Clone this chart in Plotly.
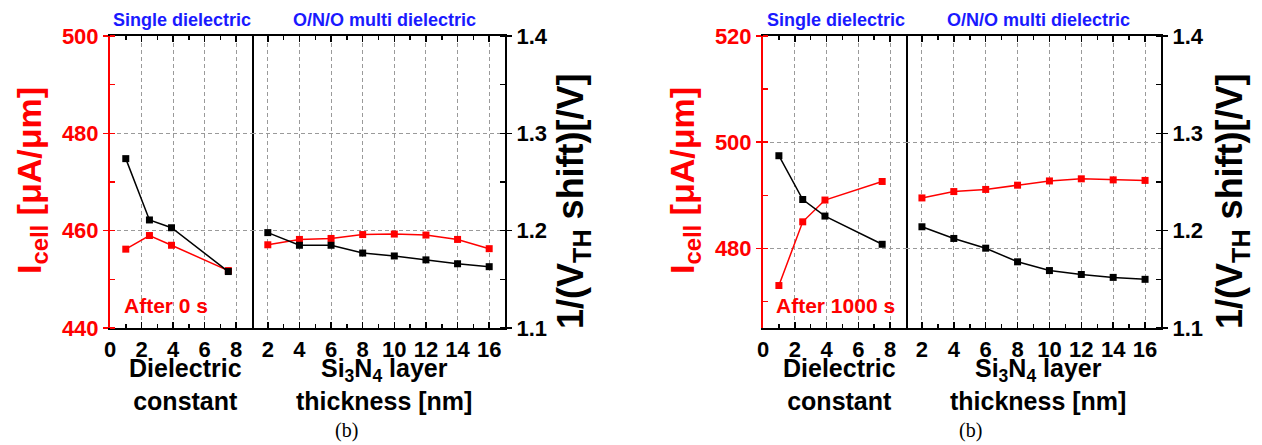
import plotly.graph_objects as go

W, H = 1262, 445

# ---------------- data ----------------
k_diel = [1, 2.5, 3.9, 7.5]
t_sin = [2, 4, 6, 8, 10, 12, 14, 16]

icell_0s_single = [456.2, 459.0, 457.0, 451.8]
vth_0s_single = [1.274, 1.211, 1.203, 1.158]
icell_0s_ono = [457.1, 458.2, 458.4, 459.2, 459.3, 459.1, 458.2, 456.3]
vth_0s_ono = [1.198, 1.185, 1.185, 1.177, 1.174, 1.170, 1.166, 1.163]

icell_1000s_single = [473.0, 485.0, 489.1, 492.6]
vth_1000s_single = [1.277, 1.232, 1.215, 1.186]
icell_1000s_ono = [489.5, 490.7, 491.1, 491.9, 492.7, 493.1, 492.9, 492.8]
vth_1000s_ono = [1.204, 1.192, 1.182, 1.168, 1.159, 1.155, 1.152, 1.150]

icell_ranges = [[440, 500], [465, 520]]
vth_range = [1.1, 1.4]
time_labels = ["After 0 s", "After 1000 s"]
group_labels = ["Single dielectric", "O/N/O multi dielectric"]
xtitle_left = "Dielectric<br>constant"
xtitle_right = "Si<sub>3</sub>N<sub>4</sub> layer<br>thickness [nm]"
ytitle_left = "I<sub>cell</sub> [μA/μm]"
ytitle_right = "1/(V<sub>TH</sub> shift)[/V]"
caption = "(b)"

# ---------------- style ----------------
FONT = "Liberation Sans, Arial, sans-serif"
RED = "#ff0000"
BLUE = "#1a1aff"
BLACK = "#000000"
GRID = "#9a9a9a"
GRIDDASH = "4px,3px"

# pixel geometry for each panel: left axis, divider, right axis
panel_px = [dict(l=110, m=252, r=505, title_l=31, title_r=573, cap=346,
                 grp=(181.5, 384), xt=(185, 384), after=122),
            dict(l=763, m=906, r=1161, title_l=684, title_r=1232, cap=970,
                 grp=(836, 1038), xt=(839, 1038), after=774)]
TOP, BOT = 36, 328
ydom = [1 - BOT / H, 1 - TOP / H]


def px(x):
    return x / W


def py(y):
    return 1 - y / H


series = [
    (icell_0s_single, vth_0s_single, icell_0s_ono, vth_0s_ono),
    (icell_1000s_single, vth_1000s_single, icell_1000s_ono, vth_1000s_ono),
]

fig = go.Figure()
layout = {}
annotations = []

tickfont_black = dict(family=FONT, size=22, color=BLACK, weight="bold")
tickfont_red = dict(family=FONT, size=22, color=RED, weight="bold")


def ax(n, kind):
    return kind + ("" if n == 1 else str(n))


for i, p in enumerate(panel_px):
    xl = 2 * i + 1
    xr = 2 * i + 2
    yrl, ybl, yrr, ybr = 4 * i + 1, 4 * i + 2, 4 * i + 3, 4 * i + 4

    xcommon = dict(ticks="inside", ticklen=6, tickwidth=1.5, tickcolor=BLACK,
                   showline=True, linecolor=BLACK, linewidth=2, mirror="ticks",
                   showgrid=True, gridcolor=GRID, griddash=GRIDDASH, gridwidth=1,
                   zeroline=False, dtick=2, tick0=0, tickfont=tickfont_black,
                   automargin=False, ticklabelstandoff=1,
                   minor=dict(dtick=1, ticks="inside", ticklen=4, tickwidth=1.5,
                              tickcolor=BLACK, showgrid=False))
    layout[ax(xl, "xaxis")] = dict(domain=[px(p["l"]), px(p["m"])], range=[0, 9],
                                   anchor=ax(yrl, "y"), **xcommon)
    layout[ax(xr, "xaxis")] = dict(domain=[px(p["m"]), px(p["r"])], range=[1, 17],
                                   anchor=ax(yrr, "y"), **xcommon)

    yr = icell_ranges[i]
    layout[ax(yrl, "yaxis")] = dict(
        domain=ydom, range=yr, anchor=ax(xl, "x"), side="left", automargin=False,
        dtick=20, tick0=0, ticks="outside", ticklen=5, tickwidth=1.5, tickcolor=RED,
        showline=True, linecolor=RED, linewidth=2, tickfont=tickfont_red,
        showgrid=True, gridcolor=GRID, griddash=GRIDDASH, gridwidth=1, zeroline=False,
        minor=dict(dtick=10, ticks="inside", ticklen=5, tickwidth=1.5,
                   tickcolor=RED, showgrid=False))
    layout[ax(ybl, "yaxis")] = dict(
        range=vth_range, anchor=ax(xl, "x"), overlaying=ax(yrl, "y"), side="right",
        showline=True, linecolor=BLACK, linewidth=2, ticks="", showticklabels=False,
        showgrid=False, zeroline=False, automargin=False)
    layout[ax(yrr, "yaxis")] = dict(
        domain=ydom, range=yr, anchor=ax(xr, "x"), dtick=20, tick0=0,
        showline=False, ticks="", showticklabels=False, automargin=False,
        showgrid=True, gridcolor=GRID, griddash=GRIDDASH, gridwidth=1, zeroline=False)
    layout[ax(ybr, "yaxis")] = dict(
        range=vth_range, anchor=ax(xr, "x"), overlaying=ax(yrr, "y"), side="right",
        dtick=0.1, tick0=0, ticks="outside", ticklen=5, tickwidth=1.5, tickcolor=BLACK,
        showline=True, linecolor=BLACK, linewidth=2, tickfont=tickfont_black,
        showgrid=False, zeroline=False, tickformat=".1f", automargin=False,
        minor=dict(dtick=0.05, ticks="inside", ticklen=5, tickwidth=1.5,
                   tickcolor=BLACK, showgrid=False))

    ic_s, v_s, ic_o, v_o = series[i]
    for xs, ys, xa, ya, col in [
        (k_diel, ic_s, xl, yrl, RED),
        (k_diel, v_s, xl, ybl, BLACK),
        (t_sin, ic_o, xr, yrr, RED),
        (t_sin, v_o, xr, ybr, BLACK),
    ]:
        fig.add_trace(go.Scatter(
            x=xs, y=ys, xaxis=ax(xa, "x"), yaxis=ax(ya, "y"),
            mode="lines+markers", showlegend=False,
            line=dict(color=col, width=1.5),
            marker=dict(symbol="square", size=7, color=col, line=dict(width=0))))

    # texts
    annotations += [
        dict(text=group_labels[0], x=px(p["grp"][0]), y=py(20), xref="paper", yref="paper",
             showarrow=False, xanchor="center", yanchor="middle",
             font=dict(family=FONT, size=18, color=BLUE, weight="bold")),
        dict(text=group_labels[1], x=px(p["grp"][1]), y=py(20), xref="paper", yref="paper",
             showarrow=False, xanchor="center", yanchor="middle",
             font=dict(family=FONT, size=18, color=BLUE, weight="bold")),
        dict(text=time_labels[i], x=px(p["after"]), y=py(305), xref="paper", yref="paper",
             showarrow=False, xanchor="left", yanchor="middle",
             font=dict(family=FONT, size=21, color=RED, weight="bold")),
        dict(text=xtitle_left, x=px(p["xt"][0]), y=py(384), xref="paper", yref="paper",
             showarrow=False, xanchor="center", yanchor="middle",
             font=dict(family=FONT, size=25, color=BLACK, weight="bold")),
        dict(text=xtitle_right, x=px(p["xt"][1]), y=py(384), xref="paper", yref="paper",
             showarrow=False, xanchor="center", yanchor="middle",
             font=dict(family=FONT, size=25, color=BLACK, weight="bold")),
        dict(text=ytitle_left, x=px(p["title_l"]), y=py(181), xref="paper", yref="paper",
             showarrow=False, xanchor="center", yanchor="middle", textangle=-90,
             font=dict(family=FONT, size=34, color=RED, weight="bold")),
        dict(text=ytitle_right, x=px(p["title_r"]), y=py(201), xref="paper", yref="paper",
             showarrow=False, xanchor="center", yanchor="middle", textangle=-90,
             font=dict(family=FONT, size=36, color=BLACK, weight="bold")),
        dict(text=caption, x=px(p["cap"]), y=py(430), xref="paper", yref="paper",
             showarrow=False, xanchor="center", yanchor="middle",
             font=dict(family="Liberation Serif, Times New Roman, serif", size=20, color=BLACK)),
    ]

fig.update_layout(
    template="none",
    width=W, height=H, autosize=False,
    margin=dict(l=0, r=0, t=0, b=0, pad=0),
    paper_bgcolor="white", plot_bgcolor="rgba(0,0,0,0)",
    showlegend=False,
    font=dict(family=FONT),
    annotations=annotations,
    **layout,
)

fig.write_html(
    "out.html",
    config={"displayModeBar": False, "staticPlot": True},
    post_script="document.body.style.margin='0';document.body.style.overflow='hidden';",
)
